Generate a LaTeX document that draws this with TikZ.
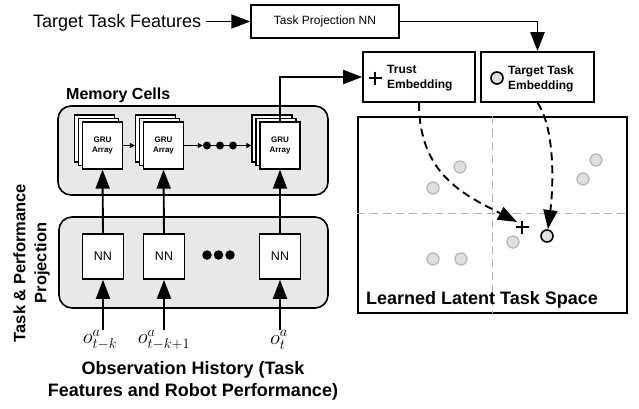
\documentclass[tikz,border=0pt]{standalone}
\usepackage[no-math]{fontspec}
\setmainfont{Liberation Sans}
\usetikzlibrary{arrows.meta}
\begin{document}
\begin{tikzpicture}[x=1pt,y=-1pt,
  box/.style={draw, line width=1.2pt, fill=white, inner sep=0pt},
  grubox/.style={box, minimum width=40pt, minimum height=47pt, align=center, font=\bfseries\fontsize{8}{10}\selectfont},
  nnbox/.style={box, line width=1.5pt, minimum width=41pt, minimum height=45pt, font=\fontsize{12.5}{14}\selectfont},
  embbox/.style={box, line width=1.6pt, minimum width=112pt, minimum height=50pt},
  panel/.style={draw, line width=1.6pt, rounded corners=13pt, fill=gray!18},
  arr/.style={line width=1.9pt, -{Triangle[length=19pt,width=14pt]}},
  sarr/.style={line width=1pt, -{Triangle[length=5pt,width=5pt]}},
  dasharr/.style={line width=1.9pt, dash pattern=on 8pt off 5pt, -{Triangle[length=19pt,width=14pt]}},
  gdash/.style={draw=gray!60, line width=1pt, dash pattern=on 8pt off 5pt},
  dotg/.style={circle, draw=gray!55, fill=gray!25, line width=1.3pt, minimum size=12pt, inner sep=0pt},
  dott/.style={circle, draw=black, fill=gray!25, line width=1.6pt, minimum size=12pt, inner sep=0pt},
  dotb/.style={circle, fill=black, inner sep=0pt},
  plusmark/.pic={\draw[line width=2.8pt] (-6.5,0) -- (6.5,0) (0,-6.5) -- (0,6.5);}
]
\useasboundingbox (0,0) rectangle (639,408);

% top row
\node[anchor=base west, inner sep=0pt, font=\fontsize{18}{22}\selectfont] (ttf) at (33,27.5) {Target Task Features};
\node[box, line width=1.5pt, minimum width=148pt, minimum height=33pt, font=\fontsize{12}{14}\selectfont] (tpnn) at (325,21.5) {Task Projection NN};
\draw[arr] ([xshift=5pt]ttf.east |- tpnn.west) -- (tpnn.west);

% embedding boxes
\node[embbox] (trust) at (419,77) {};
\node[embbox, minimum width=113pt] (tte) at (537.5,77) {};
\pic at (375,78) {plusmark};
\node[anchor=west, align=left, inner sep=0pt, font=\bfseries\fontsize{12}{15}\selectfont] (trusttxt) at (387,78.5) {Trust\\Embedding};
\node[dott] (ttecirc) at (497,78) {};
\node[anchor=west, align=left, inner sep=0pt, font=\bfseries\fontsize{12}{15}\selectfont] (ttetxt) at (508,78.5) {Target Task\\Embedding};
\draw[arr] (tpnn.east) -| (tte.north);

% latent space
\node[draw, line width=2pt, minimum width=269pt, minimum height=196pt, inner sep=0pt] (lat) at (492.5,215) {};
\draw[gdash] ([yshift=2pt]lat.west) -- ([yshift=2pt]lat.east);
\draw[gdash] (lat.north) -- (lat.south);
\node[dotg] (c1) at (460,167) {};
\node[dotg] (c2) at (433,188) {};
\node[dotg] (c3) at (596,160) {};
\node[dotg] (c4) at (583,179) {};
\node[dotg] (c5) at (513,242) {};
\node[dotg] (c6) at (433,259) {};
\node[dotg] (c7) at (461,259) {};
\node[dott] (tc) at (547,236) {};
\pic at (522,227) {plusmark};
\node[anchor=base west, inner sep=0pt, font=\bfseries\fontsize{18}{22}\selectfont] (latlbl) at (366,304) {Learned Latent Task Space};
\coordinate (tipA) at (517,222);
\coordinate (tipB) at (548,229);
\draw[dasharr] (trust.south) .. controls (419,175) and (465,195) .. (tipA);
\draw[dasharr] (tte.south) .. controls (556,130) and (553,190) .. (tipB);

% memory cells panel
\node[anchor=base west, inner sep=0pt, font=\bfseries\fontsize{16}{19}\selectfont] (memlbl) at (66,99) {Memory Cells};
\node[panel, minimum width=270pt, minimum height=89pt] (mem) at (193,150.5) {};
\node[grubox] (g1c) at (94.5,138.5) {};
\node[grubox] (g1b) at (98.5,142) {};
\node[grubox] (g1) at (102.5,145.5) {GRU\\Array};
\node[grubox] (g2c) at (155.5,138.5) {};
\node[grubox] (g2b) at (159.5,142) {};
\node[grubox] (g2) at (163.5,145.5) {GRU\\Array};
\node[grubox] (g3c) at (272,138.5) {};
\node[grubox] (g3b) at (276,142) {};
\node[grubox] (g3) at (280,145.5) {GRU\\Array};
\node[dotb, minimum size=8pt] (d1) at (207,145.5) {};
\node[dotb, minimum size=8pt] (d2) at (220,145.5) {};
\node[dotb, minimum size=8pt] (d3) at (233,145.5) {};
\draw[sarr] (g1.east) -- (g1.east -| g2c.west);
\draw[sarr] (g2.east) -- (d1.west);
\draw[line width=1pt] (d1) -- (d3);
\draw[sarr] (d3.east) -- (d3.east -| g3c.west);
\draw[arr] (g3.north) |- (trust.west);

% projection panel
\node[panel, minimum width=269pt, minimum height=91pt] (proj) at (193.5,262.5) {};
\node[nnbox] (nn1) at (103,256.5) {NN};
\node[nnbox] (nn2) at (164,256.5) {NN};
\node[nnbox] (nn3) at (280,256.5) {NN};
\node[dotb, minimum size=9.5pt] (e1) at (207,255) {};
\node[dotb, minimum size=9.5pt] (e2) at (218.5,255) {};
\node[dotb, minimum size=9.5pt] (e3) at (230,255) {};
\draw[arr] (nn1.north) -- (g1.south);
\draw[arr] (nn2.north) -- (g2.south);
\draw[arr] (nn3.north) -- (g3.south);

\node[rotate=90, align=center, font=\bfseries\fontsize{16.5}{21}\selectfont] (tpp) at (31.5,263) {Task \& Performance\\Projection};

% observations
\node[inner sep=0pt, font=\fontsize{20}{24}\selectfont] (o1) at (100,340) {$o^a_{t-k}$};
\node[inner sep=0pt, font=\fontsize{20}{24}\selectfont] (o2) at (164,340) {$o^a_{t-k+1}$};
\node[inner sep=0pt, font=\fontsize{20}{24}\selectfont] (o3) at (279,340) {$o^a_{t}$};
\draw[arr] (nn1.south |- o1.north) -- (nn1.south);
\draw[arr] (nn2.south |- o2.north) -- (nn2.south);
\draw[arr] (nn3.south |- o3.north) -- (nn3.south);
\node[align=center, font=\bfseries\fontsize{18}{22}\selectfont] (obs) at (193,381) {Observation History (Task\\Features and Robot Performance)};
\end{tikzpicture}
\end{document}
